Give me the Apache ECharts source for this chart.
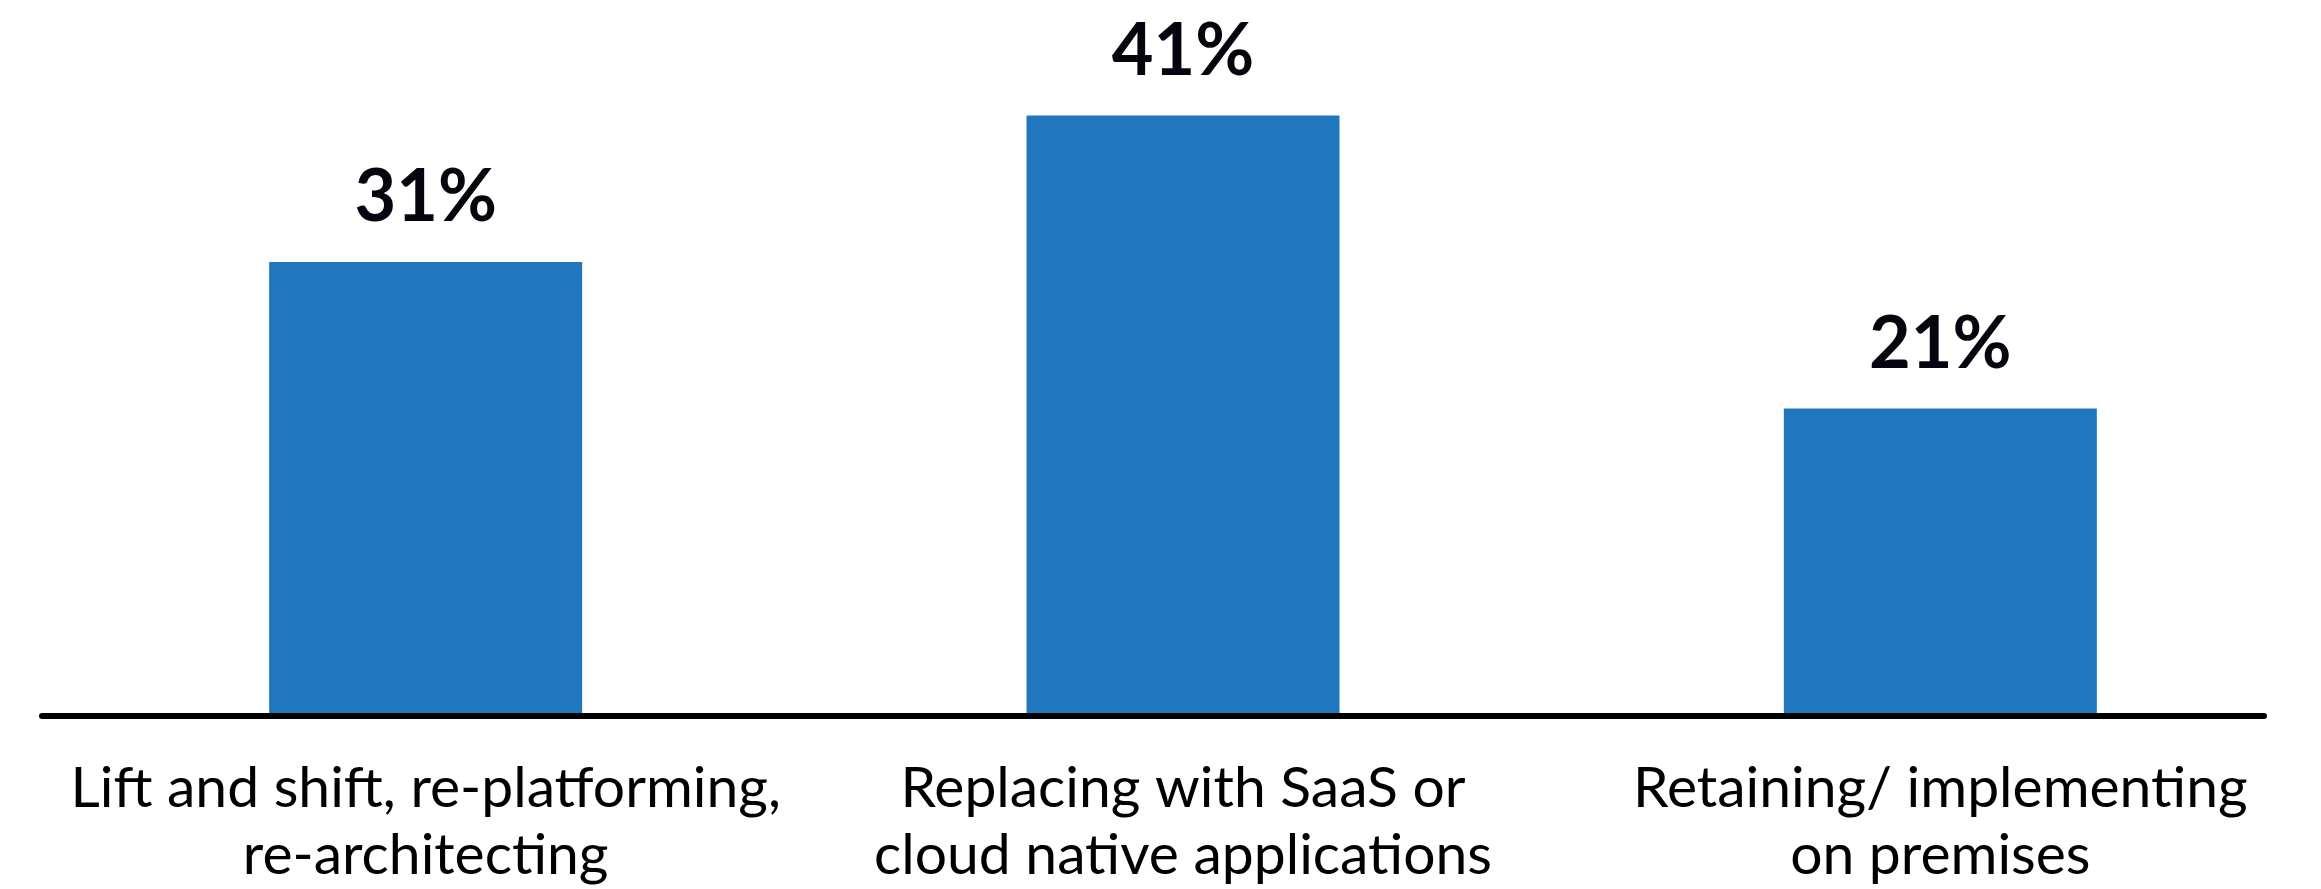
<!DOCTYPE html>
<html>
<head>
<meta charset="utf-8">
<script src="https://cdn.jsdelivr.net/npm/echarts@6/dist/echarts.min.js"></script>
<style>
  html, body { margin: 0; padding: 0; background: #ffffff; }
  #chart { width: 2321px; height: 889px; }
</style>
</head>
<body>
<div id="chart"></div>
<script>
const categories = [
  'Lift and shift, re-platforming,\nre-architecting',
  'Replacing with SaaS or\ncloud native applications',
  'Retaining/ implementing\non premises'
];
const values = [31, 41, 21];
const valueSuffix = '%';

const chart = echarts.init(document.getElementById('chart'), null, { renderer: 'canvas' });
chart.setOption({
  backgroundColor: '#ffffff',
  animation: false,
  grid: [
    { left: 47, right: 2, top: 57, bottom: 173 },
    { left: 42, right: 57, top: 57, bottom: 173 }
  ],
  xAxis: [
    {
      type: 'category',
      gridIndex: 0,
      data: categories,
      axisLine: { show: false },
      axisTick: { show: false },
      axisLabel: {
        interval: 0,
        margin: 39,
        color: '#000000',
        fontFamily: 'Lato',
        fontSize: 57,
        lineHeight: 67,
        align: 'center'
      }
    },
    {
      type: 'value',
      gridIndex: 1,
      min: 0,
      max: 1,
      z: 10,
      axisLine: { show: true, lineStyle: { color: '#000000', width: 6 } },
      axisTick: { show: false },
      axisLabel: { show: false },
      splitLine: { show: false }
    }
  ],
  yAxis: [
    { type: 'value', gridIndex: 0, min: 0, max: 45, show: false },
    { type: 'value', gridIndex: 1, min: 0, max: 1, show: false }
  ],
  series: [{
    type: 'bar',
    xAxisIndex: 0,
    yAxisIndex: 0,
    data: values,
    barWidth: 313,
    itemStyle: { color: '#2177bd' },
    label: {
      show: true,
      position: 'top',
      distance: 28,
      formatter: p => p.value + valueSuffix,
      color: '#05050f',
      fontFamily: 'Lato',
      fontWeight: 'bold',
      fontSize: 72,
      lineHeight: 72
    }
  }]
});
</script>
</body>
</html>
